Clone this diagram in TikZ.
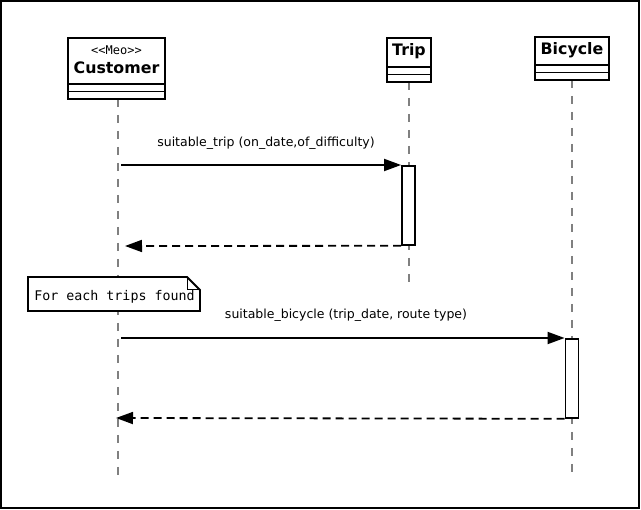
\documentclass[tikz,border=0pt]{standalone}
\usepackage{fontspec}
\setmainfont{DejaVu Sans}
\newfontfamily\monof{DejaVu Sans Mono}
\usetikzlibrary{arrows.meta,calc}
\begin{document}
\begin{tikzpicture}[x=1pt,y=-1pt,
  boxl/.style={draw=black,line width=1.6pt,fill=white,inner sep=0pt},
  sep/.style={line width=1.6pt},
  life/.style={draw=gray,line width=1.5pt,dash pattern=on 8pt off 8pt},
  actbar/.style={draw=black,line width=1.8pt,fill=white,inner sep=0pt,minimum width=13pt},
  msg/.style={line width=1.8pt,-{Triangle[length=17pt,width=12pt]}},
  ret/.style={line width=1.8pt,dash pattern=on 8pt off 5pt,-{Triangle[length=17pt,width=12pt]}},
  lbl/.style={font=\fontsize{12.5}{14}\selectfont,inner sep=0pt},
  cname/.style={font=\fontsize{15.8}{18}\selectfont\bfseries,inner sep=0pt}
]
\useasboundingbox (0,0) rectangle (641,510);
\draw[line width=2pt] (1,1) rectangle (639,508);

% lifelines
\coordinate (custTop) at (118,99);
\coordinate (custEnd) at (118,476);
\coordinate (tripTop) at (409,82);
\coordinate (tripEnd) at (409,284);
\coordinate (bikeTop) at (572,80);
\coordinate (bikeEnd) at (572,476);
\draw[life] (custTop) -- (custEnd);
\draw[life] (tripTop) -- (tripEnd);
\draw[life] (bikeTop) -- (bikeEnd);

% Customer
\node[boxl,minimum width=97pt,minimum height=61pt] (cust) at (116.5,68.5) {};
\draw[sep] (cust.west |- 0,84) -- (cust.east |- 0,84);
\draw[sep] (cust.west |- 0,91.5) -- (cust.east |- 0,91.5);
\node[font=\monof\fontsize{12}{13}\selectfont,inner sep=0pt] (custS) at (116.5,50) {<<Meo>>};
\node[cname] (custN) at (116.5,68) {Customer};

% Trip
\node[boxl,minimum width=44pt,minimum height=44pt] (trip) at (409,60) {};
\draw[sep] (trip.west |- 0,67) -- (trip.east |- 0,67);
\draw[sep] (trip.west |- 0,74.5) -- (trip.east |- 0,74.5);
\node[cname] (tripN) at (409,51) {Trip};

% Bicycle
\node[boxl,minimum width=74pt,minimum height=43pt] (bike) at (572,58.5) {};
\draw[sep] (bike.west |- 0,65) -- (bike.east |- 0,65);
\draw[sep] (bike.west |- 0,72.5) -- (bike.east |- 0,72.5);
\node[cname] (bikeN) at (572,50) {Bicycle};

% activation bars
\node[actbar,minimum height=79pt,anchor=north] (act1) at (408.5,165) {};
\node[actbar,minimum height=79pt,anchor=north] (act2) at (572,338) {};

% message 1
\coordinate (m1s) at (121,165);
\coordinate (r1e) at (125,246);
\draw[msg] (m1s) -- (act1.north west);
\draw[ret] (act1.south west) -- (r1e);
\node[lbl] (l1) at (266,143) {suitable\_trip (on\_date,of\_difficulty)};

% note
\coordinate (nA) at (28,277);
\coordinate (nB) at (187,277);
\coordinate (nC) at (200,290);
\coordinate (nD) at (200,311);
\coordinate (nE) at (28,311);
\draw[line width=1.8pt,fill=white] (nA) -- (nB) -- (nC) -- (nD) -- (nE) -- cycle;
\draw[line width=1pt] (nB) -- (187,290) -- (nC);
\node[font=\monof\fontsize{13.3}{15}\selectfont,inner sep=0pt] (note) at (114.5,297) {For each trips found};

% message 2
\coordinate (m2s) at (121,338);
\coordinate (r2e) at (116,418);
\draw[msg] (m2s) -- (act2.north west);
\draw[ret] (act2.south west) -- (r2e);
\node[lbl] (l2) at (346,315) {suitable\_bicycle (trip\_date, route type)};
\end{tikzpicture}
\end{document}
